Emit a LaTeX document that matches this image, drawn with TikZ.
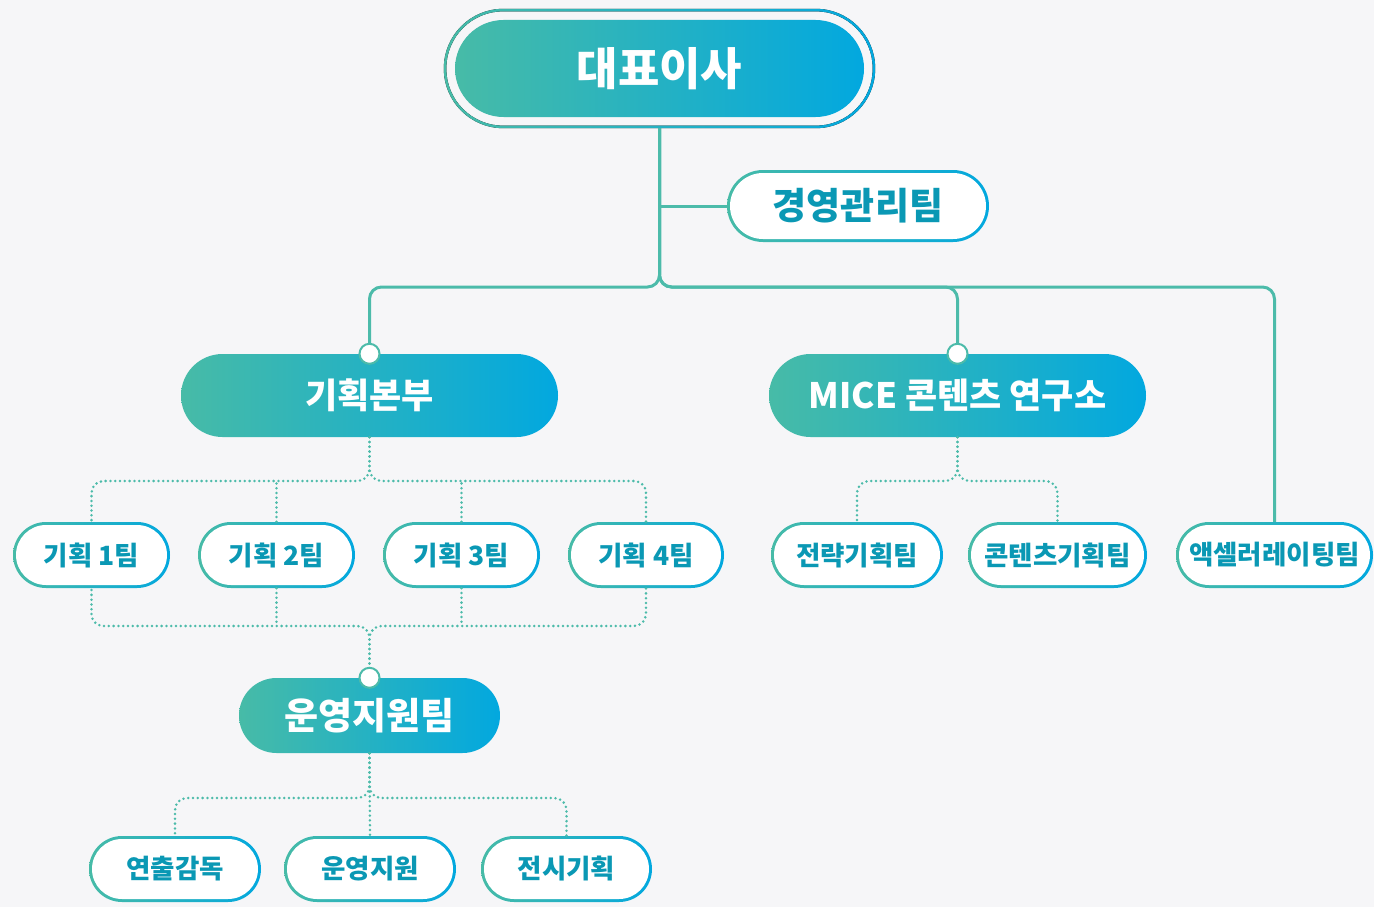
\documentclass[tikz,border=0pt]{standalone}
\usepackage{fontspec}
\setmainfont{Noto Sans CJK KR}

\definecolor{pageBG}{HTML}{F6F6F8}
\definecolor{tealA}{HTML}{47BBA7}
\definecolor{blueB}{HTML}{02A8DF}
\definecolor{lineT}{HTML}{4CBBAA}
\definecolor{textT}{HTML}{0A98B4}

\begin{document}
\begin{tikzpicture}[x=1pt,y=-1pt,
  fullpill/.style={rounded corners=#1, left color=tealA, right color=blueB, text=white, inner sep=0pt},
  ringpill/.style={rounded corners=#1, left color=tealA, right color=blueB, text=textT, inner sep=0pt,
    path picture={\fill[white, rounded corners=#1-3] ([shift={(3pt,3pt)}]path picture bounding box.south west) rectangle ([shift={(-3pt,-3pt)}]path picture bounding box.north east);}},
  teambox/.style={ringpill=33, minimum width=#1, minimum height=66, font=\fontsize{26.5}{30}\selectfont\bfseries},
  solidlink/.style={lineT, line width=3},
  dotlink/.style={lineT, line width=2.8, line cap=round, dash pattern=on 0pt off 4.8pt},
  pin/.style={circle, fill=white, draw=lineT, line width=2, minimum size=20, inner sep=0pt}]

\useasboundingbox (0,0) rectangle (1374,907);
\fill[pageBG] (0,0) rectangle (1374,907);

\node[fullpill=48.5, minimum width=409, minimum height=97, font=\fontsize{45}{52}\selectfont\bfseries] (ceo) at (659.5,68.5) {대표이사};
\fill[left color=tealA, right color=blueB, even odd rule]
  [rounded corners=59.5] ([shift={(-11pt,11pt)}]ceo.north west) rectangle ([shift={(11pt,-11pt)}]ceo.south east)
  [rounded corners=57] ([shift={(-8.5pt,8.5pt)}]ceo.north west) rectangle ([shift={(8.5pt,-8.5pt)}]ceo.south east);
\coordinate (ceofoot) at ([yshift=-11pt]ceo.south);

\node[ringpill=36, minimum width=262, minimum height=72, font=\fontsize{37}{42}\selectfont\bfseries] (mgmt) at (858,206) {경영관리팀};

  \node[fullpill=41.5, minimum width=377, minimum height=83, font=\fontsize{35}{40}\selectfont\bfseries] (hq) at (369.5,395.5) {기획본부};
  \node[fullpill=41.5, minimum width=377, minimum height=83, font=\fontsize{35}{40}\selectfont\bfseries] (mice) at (957.5,395.5) {MICE 콘텐츠 연구소};

\node[teambox=157] (t1) at (91.5,555) {기획 1팀};
\node[teambox=157] (t2) at (276.5,555) {기획 2팀};
\node[teambox=157] (t3) at (461.5,555) {기획 3팀};
\node[teambox=156] (t4) at (646,555) {기획 4팀};

\node[teambox=172] (s1) at (857,555) {전략기획팀};
\node[teambox=179] (s2) at (1057.5,555) {콘텐츠기획팀};
\node[teambox=197] (accel) at (1274.5,555) {액셀러레이팅팀};

\node[fullpill=37.5, minimum width=261, minimum height=75, font=\fontsize{37}{42}\selectfont\bfseries] (ops) at (369.5,715.5) {운영지원팀};

\node[teambox=172] (b1) at (175,869) {연출감독};
\node[teambox=172] (b2) at (370,869) {운영지원};
\node[teambox=171] (b3) at (566.5,869) {전시기획};


\coordinate (hub) at (ceofoot |- 0,287);
\draw[solidlink] (ceofoot) |- (mgmt.west);
\draw[solidlink, rounded corners=12] (ceofoot) -- (hub) -| (hq.north);
\draw[solidlink, rounded corners=12] (ceofoot) -- (hub) -| (mice.north);
\draw[solidlink, rounded corners=12] (ceofoot) -- (hub) -| (accel.north);

\coordinate (hqfork) at (hq.south |- 0,481);
\draw[dotlink, rounded corners=12] (hq.south) -- (hqfork) -| (t1.north);
\draw[dotlink, rounded corners=12] (hq.south) -- (hqfork) -| (t4.north);
\draw[dotlink] (t2.north) -- (t2.north |- hqfork);
\draw[dotlink] (t3.north) -- (t3.north |- hqfork);

\coordinate (opsfork) at (ops.north |- 0,626);
\draw[dotlink, rounded corners=12] (ops.north) -- (opsfork) -| (t1.south);
\draw[dotlink, rounded corners=12] (ops.north) -- (opsfork) -| (t4.south);
\draw[dotlink] (t2.south) -- (t2.south |- opsfork);
\draw[dotlink] (t3.south) -- (t3.south |- opsfork);

\coordinate (micefork) at (mice.south |- 0,481);
\draw[dotlink, rounded corners=12] (mice.south) -- (micefork) -| (s1.north);
\draw[dotlink, rounded corners=12] (mice.south) -- (micefork) -| (s2.north);

\coordinate (opsfork2) at (ops.south |- 0,798);
\draw[dotlink, rounded corners=12] (ops.south) -- (opsfork2) -| (b1.north);
\draw[dotlink, rounded corners=12] (ops.south) -- (opsfork2) -| (b3.north);
\draw[dotlink] (ops.south) -- (b2.north);

\node[pin] (hqpin) at (hq.north) {};
\node[pin] (micepin) at (mice.north) {};
\node[pin] (opspin) at (ops.north) {};

\end{tikzpicture}
\end{document}
